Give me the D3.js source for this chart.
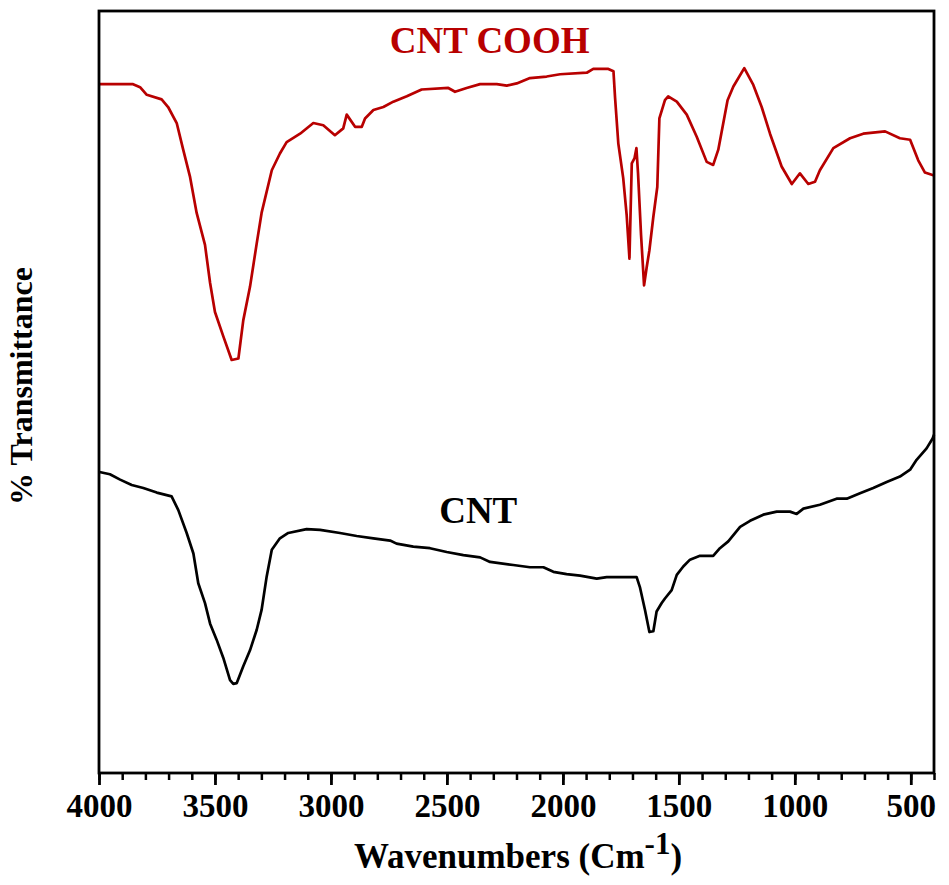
<!DOCTYPE html>
<html>
<head>
<meta charset="utf-8">
<script src="https://cdn.jsdelivr.net/npm/d3@7"></script>
<style>
  body { margin: 0; background: #fff; }
  svg text { font-family: "Liberation Serif", "Times New Roman", serif; font-weight: bold; }
</style>
</head>
<body>
<div id="chart"></div>
<script>
// wavenumber (cm^-1) and % transmittance (arbitrary offset)
const cooh_wn = [4000, 3853, 3823, 3794, 3730, 3702, 3665, 3637, 3608, 3579, 3543, 3521, 3500, 3464, 3428, 3399,
  3378, 3349, 3320, 3299, 3255, 3220, 3191, 3133, 3076, 3033, 2983, 2947, 2932, 2896, 2867, 2853, 2817, 2774,
  2731, 2673, 2609, 2494, 2465, 2415, 2357, 2285, 2242, 2199, 2142, 2070, 2012, 1897, 1869, 1804, 1782, 1775,
  1761, 1740, 1725, 1713, 1703, 1691, 1683, 1676, 1663, 1650, 1639, 1627, 1610, 1593, 1584, 1560, 1546, 1509,
  1466, 1423, 1380, 1352, 1330, 1290, 1265, 1218, 1179, 1143, 1107, 1057, 1013, 978, 942, 913, 892, 834, 762,
  705, 611, 547, 503, 468, 439, 400];
const cooh_t = [90.4, 90.4, 90.0, 89.0, 88.4, 87.4, 85.3, 81.8, 78.3, 73.5, 69.3, 64.3, 60.5, 57.3, 54.2, 54.4,
  59.4, 63.8, 69.5, 73.5, 79.1, 81.3, 82.8, 83.9, 85.3, 85.0, 83.7, 84.6, 86.4, 84.8, 84.8, 85.9, 87.0, 87.4,
  88.1, 88.8, 89.7, 89.9, 89.4, 89.9, 90.4, 90.4, 90.2, 90.5, 91.2, 91.4, 91.7, 91.9, 92.4, 92.4, 92.1, 88.6,
  82.6, 78.1, 73.2, 67.5, 80.0, 80.7, 82.0, 78.7, 70.6, 64.0, 66.3, 68.6, 73.0, 76.9, 85.9, 88.3, 88.8, 88.1,
  86.4, 83.5, 80.2, 79.8, 81.8, 88.3, 90.1, 92.5, 90.3, 87.4, 83.9, 79.6, 77.3, 78.7, 77.3, 77.6, 79.1, 82.0, 83.3,
  83.9, 84.2, 83.3, 83.1, 80.4, 78.8, 78.4];

const cnt_wn = [3998, 3953, 3909, 3859, 3809, 3751, 3687, 3658, 3622, 3593, 3572, 3543, 3521, 3493, 3464, 3435,
  3421, 3406, 3378, 3349, 3320, 3299, 3277, 3255, 3220, 3184, 3105, 3047, 2961, 2889, 2817, 2745, 2717, 2645,
  2573, 2501, 2429, 2357, 2314, 2214, 2142, 2084, 2041, 1984, 1926, 1854, 1811, 1682, 1668, 1646, 1627, 1610,
  1596, 1574, 1560, 1531, 1509, 1481, 1452, 1409, 1352, 1323, 1287, 1236, 1193, 1136, 1078, 1021, 992, 963,
  892, 820, 776, 719, 662, 604, 547, 503, 475, 432, 406, 400];
const cnt_t = [39.5, 39.2, 38.5, 37.8, 37.4, 36.8, 36.3, 34.5, 31.5, 28.8, 24.9, 22.3, 19.6, 17.5, 15.1, 12.2,
  11.7, 11.8, 14.0, 16.1, 18.8, 21.4, 25.8, 29.3, 30.8, 31.5, 32.0, 31.9, 31.5, 31.1, 30.8, 30.5, 30.1, 29.7,
  29.5, 29.0, 28.6, 28.3, 27.7, 27.3, 27.0, 27.0, 26.4, 26.1, 25.9, 25.5, 25.7, 25.7, 24.4, 21.4, 18.5, 18.6,
  21.2, 22.3, 22.9, 24.0, 26.0, 27.1, 28.0, 28.5, 28.5, 29.5, 30.4, 32.3, 33.1, 33.9, 34.3, 34.3, 34.0, 34.7,
  35.2, 36.0, 36.0, 36.7, 37.4, 38.2, 38.9, 39.8, 41.1, 42.6, 43.9, 44.4];

const majorTicks = [4000, 3500, 3000, 2500, 2000, 1500, 1000, 500];
const minorTicks = d3.range(4000, 399, -100);

const seriesNames = ["CNT COOH", "CNT"];
const seriesColors = ["#b80000", "#000000"];
// label anchor points in data units
const labelWn = [2316, 2365];
const labelT = [94.5, 32.8];

const width = 949, height = 885;
const margin = { top: 11, right: 15, bottom: 112, left: 99 };

const svg = d3.select("#chart").append("svg")
  .attr("width", width)
  .attr("height", height);

const x = d3.scaleLinear()
  .domain([4000, 400])
  .range([margin.left, width - margin.right]);
const y = d3.scaleLinear()
  .domain([0, 100])
  .range([height - margin.bottom, margin.top]);

const line = d3.line()
  .x(d => x(d[0]))
  .y(d => y(d[1]));

const series = [
  d3.zip(cooh_wn, cooh_t),
  d3.zip(cnt_wn, cnt_t)
];

series.forEach((pts, i) => {
  svg.append("path")
    .datum(pts)
    .attr("fill", "none")
    .attr("stroke", seriesColors[i])
    .attr("stroke-width", 2.7)
    .attr("stroke-linejoin", "round")
    .attr("d", line);

  svg.append("text")
    .attr("x", x(labelWn[i]))
    .attr("y", y(labelT[i]))
    .attr("text-anchor", "middle")
    .attr("font-size", 37)
    .attr("fill", seriesColors[i])
    .text(seriesNames[i]);
});

// frame
svg.append("rect")
  .attr("x", x(4000))
  .attr("y", y(100))
  .attr("width", x(400) - x(4000))
  .attr("height", y(0) - y(100))
  .attr("fill", "none")
  .attr("stroke", "#000")
  .attr("stroke-width", 2.8);

// minor ticks
svg.append("g")
  .attr("transform", `translate(0,${y(0)})`)
  .call(d3.axisBottom(x).tickValues(minorTicks).tickSize(7).tickFormat(""))
  .call(g => g.select(".domain").remove())
  .call(g => g.selectAll("line").attr("stroke-width", 2.5));

// major ticks and labels
const xAxis = svg.append("g")
  .attr("transform", `translate(0,${y(0)})`)
  .call(d3.axisBottom(x).tickValues(majorTicks).tickSize(12).tickFormat(d3.format("d")));
xAxis.select(".domain").remove();
xAxis.selectAll("line").attr("stroke-width", 2.8);
xAxis.selectAll("text")
  .attr("y", 44)
  .attr("dy", 0)
  .attr("font-size", 33)
  .attr("fill", "#000")
  .attr("font-family", '"Liberation Serif", "Times New Roman", serif')
  .attr("font-weight", "bold");

// axis titles
const xt = svg.append("text")
  .attr("x", 518)
  .attr("y", 868)
  .attr("text-anchor", "middle")
  .attr("font-size", 35)
  .attr("fill", "#000");
xt.append("tspan").text("Wavenumbers (Cm");
xt.append("tspan").attr("dy", -14).attr("font-size", 31).text("-1");
xt.append("tspan").attr("dy", 14).text(")");

svg.append("text")
  .attr("transform", "translate(32,386) rotate(-90)")
  .attr("text-anchor", "middle")
  .attr("font-size", 32)
  .attr("fill", "#000")
  .text("% Transmittance");
</script>
</body>
</html>
